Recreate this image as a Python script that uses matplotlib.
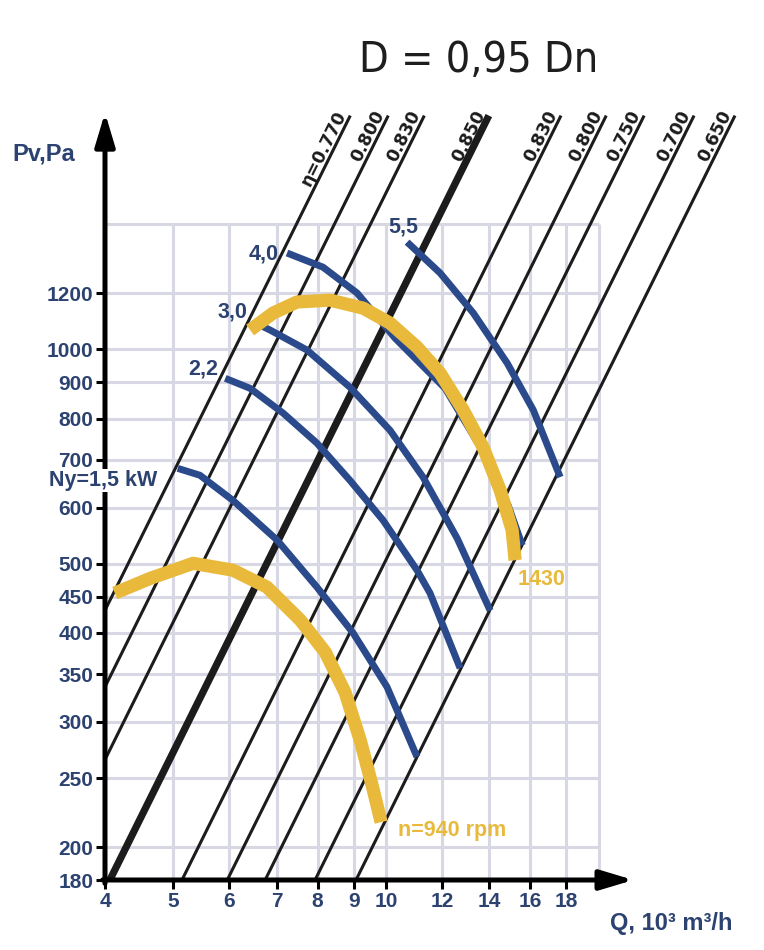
import numpy as np
import matplotlib
matplotlib.use("Agg")
import matplotlib.pyplot as plt
from matplotlib import font_manager as fm
from matplotlib.ticker import NullLocator

plt.rcParams['font.family'] = ['Liberation Sans', 'DejaVu Sans']

# efficiency lines, P = k * Q^2
eta_labels = ["η=0.770", "0.800", "0.830", "0.850", "0.830", "0.800", "0.750", "0.700", "0.650"]
eta_k = [26.9, 21.0, 16.6, 10.9, 6.81, 5.07, 3.96, 2.86, 2.19]
eta_best = 3  # the thick one
eta_top = 2130

# power lines (kW), Q in 10^3 m3/h, P in Pa
pw_labels = ["Ny=1,5 kW", "2,2", "3,0", "4,0", "5,5"]
pw_q = [
    [5.07, 5.45, 6.07, 7.01, 7.98, 8.98, 10.03, 11.06],
    [5.92, 6.42, 7.15, 7.98, 8.89, 9.90, 11.06, 11.54, 12.73],
    [6.68, 6.85, 7.73, 8.89, 10.13, 11.28, 12.61, 14.04],
    [7.24, 8.14, 9.10, 10.30, 12.12, 13.95, 14.89, 15.59],
    [10.71, 11.93, 13.29, 14.84, 16.16, 17.64],
]
pw_p = [
    [681, 666, 614, 540, 464, 400, 336, 268],
    [911, 882, 814, 739, 655, 576, 490, 455, 357],
    [1078, 1065, 998, 885, 770, 662, 543, 430],
    [1366, 1305, 1200, 1037, 882, 699, 604, 531],
    [1415, 1280, 1125, 957, 822, 662],
]

# fan curves
n940_q = [4.13, 4.63, 5.33, 6.07, 6.78, 7.56, 8.20, 8.75, 9.19, 9.56, 9.84]
n940_p = [455, 477, 501, 490, 464, 417, 376, 330, 283, 244, 217]
n1430_q = [6.42, 6.92, 7.48, 8.33, 9.28, 10.13, 11.06, 11.93, 12.86, 13.72, 14.51, 15.08, 15.23]
n1430_p = [1065, 1125, 1166, 1173, 1143, 1089, 1008, 926, 822, 729, 634, 558, 506]

x_ticks = [4, 5, 6, 7, 8, 9, 10, 12, 14, 16, 18]
y_ticks = [180, 200, 250, 300, 350, 400, 450, 500, 600, 700, 800, 900, 1000, 1200]
grid_x = [5, 6, 7, 8, 9, 10, 12, 14, 16, 18, 20]
grid_y = [200, 250, 300, 350, 400, 450, 500, 600, 700, 800, 900, 1000, 1200, 1500]

navy = '#2c4270'
blue = '#2a4a8b'
yellow = '#e8b93a'
gridc = '#d8d8e5'

fig = plt.figure(figsize=(7.64, 9.5), dpi=100)
ax = fig.add_axes([105/764, 70/950, 635/764, 780/950])
ax.set_xscale('log')
ax.set_yscale('log')
ax.set_xlim(4, 31.7)
ax.set_ylim(180, 2240)
for s in ax.spines.values():
    s.set_visible(False)

# grid only inside the chart field
ax.vlines(grid_x, 180, 1500, color=gridc, lw=2.2, zorder=1)
ax.hlines(grid_y, 4, 20, color=gridc, lw=2.2, zorder=1)

# efficiency lines
fig.canvas.draw()
for i, (lab, k) in enumerate(zip(eta_labels, eta_k)):
    q0 = max(4.0, np.sqrt(180 / k))
    q1 = np.sqrt(eta_top / k)
    lw = 5.2 if i == eta_best else 2.2
    ax.plot([q0, q1], [k * q0**2, k * q1**2], color='#1c1c1c', lw=lw,
            solid_capstyle='butt', zorder=2)
    p0 = ax.transData.transform((q0, k * q0**2))
    p1 = ax.transData.transform((q1, k * q1**2))
    ang = np.degrees(np.arctan2(p1[1] - p0[1], p1[0] - p0[0]))
    ax.text(q1, eta_top, lab, rotation=ang, rotation_mode='anchor',
            ha='right', va='bottom', fontsize=12.5, fontweight='bold',
            family=['DejaVu Sans'], color='#1c1c1c', zorder=5)

# power lines
for q, p in zip(pw_q, pw_p):
    ax.plot(q, p, color=blue, lw=5, solid_capstyle='butt',
            solid_joinstyle='round', zorder=3)

lab_off = [(-15, -9), (-5, 7), (-11, 10), (-6, -1), (-3, 11)]
lab_ha = ['right', 'right', 'right', 'right', 'center']
for lab, q, p, off, ha in zip(pw_labels, pw_q, pw_p, lab_off, lab_ha):
    bb = dict(boxstyle='square,pad=0.05', fc='white', ec='none') if lab.startswith('Ny') else None
    ax.annotate(lab, (q[0], p[0]), xytext=off, textcoords='offset points',
                ha=ha, va='center', fontsize=15.5, fontweight='bold',
                color=navy, bbox=bb, zorder=8, annotation_clip=False)

# fan curves
for q, p in [(n940_q, n940_p), (n1430_q, n1430_p)]:
    ax.plot(q, p, color=yellow, lw=9.5, solid_capstyle='butt',
            solid_joinstyle='round', zorder=4)
ax.annotate('n=940 rpm', (n940_q[-1], n940_p[-1]), xytext=(12, -6),
            textcoords='offset points', ha='left', va='center',
            fontsize=15.5, fontweight='bold', color=yellow)
ax.annotate('1430', (n1430_q[-1], n1430_p[-1]), xytext=(2, -14),
            textcoords='offset points', ha='left', va='center',
            fontsize=15.5, fontweight='bold', color=yellow)

# axes arrows
arr = dict(arrowstyle='-|>,head_length=2.0,head_width=0.6', lw=3.6,
           color='black', shrinkA=0, shrinkB=0)
ax.annotate('', xy=(4, 2150), xytext=(4, 178), arrowprops=arr,
            annotation_clip=False, zorder=6)
ax.annotate('', xy=(22.4, 180), xytext=(3.97, 180), arrowprops=arr,
            annotation_clip=False, zorder=6)

ax.set_xticks(x_ticks)
ax.set_xticklabels([str(v) for v in x_ticks])
ax.set_yticks(y_ticks)
ax.set_yticklabels([str(v) for v in y_ticks])
ax.xaxis.set_minor_locator(NullLocator())
ax.yaxis.set_minor_locator(NullLocator())
ax.tick_params(direction='out', length=6.5, width=2.2, color='black',
               labelcolor=navy, labelsize=15, pad=2)
for t in ax.get_xticklabels() + ax.get_yticklabels():
    t.set_fontweight('bold')

fig.text(12/764, 1 - 161/950, 'Pv,Pa', ha='left', va='baseline',
         fontsize=17, fontweight='bold', color=navy)
fig.text(610/764, 1 - 930/950, 'Q, 10³ m³/h', ha='left', va='baseline',
         fontsize=17, fontweight='bold', color=navy)

# title in a narrow face if one is installed
names = {f.name for f in fm.fontManager.ttflist}
cond = sorted(f.fname for f in fm.fontManager.ttflist
              if f.stretch in ('condensed', 'semi-condensed', 'extra-condensed')
              and f.style == 'normal' and f.weight in (400, 'normal', 'regular')
              and 'Sans' in f.name)
if 'Liberation Sans Narrow' in names:
    tprop = fm.FontProperties(family='Liberation Sans Narrow', size=37)
elif cond:
    tprop = fm.FontProperties(fname=cond[0], size=31)
else:
    tprop = fm.FontProperties(family='Liberation Sans', size=30)
fig.text(479/764, 1 - 72/950, 'D = 0,95 Dn', ha='center', va='baseline',
         fontproperties=tprop, color='#1e1e1e')

fig.savefig('out.png', dpi=100)
